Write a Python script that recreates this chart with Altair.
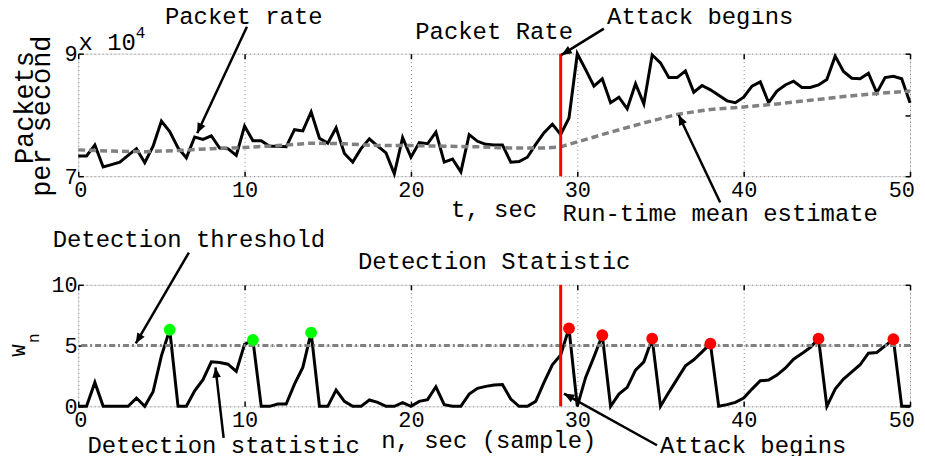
import math
import altair as alt
import numpy as np
import pandas as pd

FONT = "Liberation Mono"

# ---------------- data ----------------
t = np.arange(0, 50.5, 0.5)  # sample times, sec

packet_rate = [  # x 10^4 packets per second
    7.33, 7.33, 7.51, 7.15, 7.19, 7.23, 7.34, 7.45, 7.22, 7.49,
    7.90, 7.73, 7.46, 7.30, 7.64, 7.60, 7.66, 7.46, 7.45, 7.34,
    7.82, 7.58, 7.58, 7.49, 7.49, 7.48, 7.76, 7.74, 8.05, 7.62,
    7.54, 7.79, 7.37, 7.23, 7.45, 7.61, 7.49, 7.38, 7.04, 7.63,
    7.31, 7.55, 7.53, 7.72, 7.23, 7.28, 7.07, 7.68, 7.57, 7.52,
    7.51, 7.51, 7.23, 7.24, 7.31, 7.52, 7.71, 7.85, 7.68, 7.95,
    9.00, 8.74, 8.47, 8.59, 8.20, 8.29, 8.10, 8.51, 8.18, 8.98,
    8.85, 8.61, 8.61, 8.72, 8.37, 8.48, 8.41, 8.32, 8.23, 8.20,
    8.29, 8.47, 8.54, 8.20, 8.39, 8.49, 8.55, 8.45, 8.45, 8.49,
    8.58, 8.96, 8.71, 8.60, 8.59, 8.68, 8.36, 8.61, 8.63, 8.59,
    8.20,
]

w_stat = [
    0, 0, 1.97, 0, 0, 0, 0, 0.68, 0, 1.2,
    4.15, 6.3, 0, 0, 1.28, 2.19, 3.66, 3.6, 3.47, 2.87,
    5.1, 5.46, 0, 0, 0.19, 0.19, 1.83, 3.2, 6.07, 0,
    0, 1.34, 0.41, 0, 0, 0.52, 0.33, 0, 0, 0.3,
    0, 0.41, 0.55, 1.61, 0.14, 0, 0, 1.01, 1.48, 1.64,
    1.75, 1.80, 0.6, 0, 0, 0.41, 1.97, 3.42, 4.23, 6.42,
    0, 2.38, 4.07, 5.85, 0, 1.01, 1.56, 2.98, 3.66, 5.57,
    0, 1.15, 2.24, 3.33, 3.83, 4.48, 5.16, 0, 0.14, 0.33,
    0.68, 1.42, 2.10, 2.16, 2.57, 3.14, 3.88, 4.34, 4.84, 5.57,
    0, 1.42, 2.24, 2.84, 3.42, 4.37, 4.43, 4.97, 5.52, 0,
    0,
]

mean_t = [0, 2, 4, 6, 8, 10, 12, 14, 16, 18, 20, 22, 24, 26, 28, 29,
          30, 32, 34, 36, 38, 40, 42, 44, 46, 48, 50]
mean_est = [7.43, 7.41, 7.40, 7.42, 7.45, 7.47, 7.50, 7.54, 7.53, 7.50, 7.50,
            7.49, 7.48, 7.46, 7.46, 7.48, 7.56, 7.72, 7.87, 8.01, 8.09, 8.13,
            8.18, 8.24, 8.30, 8.35, 8.39]

alarm_t = [5.5, 10.5, 14, 29.5, 31.5, 34.5, 38, 44.5, 49]
alarm_w = [6.3, 5.46, 6.07, 6.42, 5.85, 5.57, 5.16, 5.57, 5.52]
alarm_color = ["#00ff00"] * 3 + ["#ff0000"] * 6

attack_t = 29
threshold = 5

x_ticks = [0, 10, 20, 30, 40, 50]
top_y_ticks = [7, 8, 9]
bot_y_ticks = [0, 5, 10]

# annotations (data coordinates)
top_labels = ["Packet rate", "Packet Rate", "Attack begins", "t, sec",
              "Run-time mean estimate", "x 10", "4"]
top_lab_x = [9.95, 25, 37.39, 25, 38.59, 1.74, 3.75]
top_lab_y = [9.60, 9.35, 9.60, 6.45, 6.39, 9.18, 9.34]
top_lab_fs = [24, 24, 24, 24, 24, 24, 16]

ylab_labels = ["Packets", "per second"]
ylab_x = [-3.20, -2.18]
ylab_y = [8.12, 7.98]

top_arr_x = [10.14, 31.6, 38.59]
top_arr_y = [9.44, 9.41, 6.57]
top_arr_x2 = [7.15, 29.05, 36.09]
top_arr_y2 = [7.70, 8.98, 8.00]

bot_labels = ["Detection threshold", "Detection Statistic", "Detection statistic",
              "n, sec (sample)", "Attack begins"]
bot_lab_x = [6.65, 25, 8.74, 24.68, 40.57]
bot_lab_y = [13.69, 11.89, -3.28, -2.83, -3.24]

rot_labels = ["W", "n"]
rot_lab_x = [-3.58, -2.68]
rot_lab_y = [4.59, 5.61]
rot_lab_fs = [20, 16]

bot_arr_x = [6.65, 8.74, 34.79]
bot_arr_y = [12.65, -2.60, -3.20]
bot_arr_x2 = [3.46, 8.25, 29.2]
bot_arr_y2 = [5.18, 3.20, 1.05]

# ---------------- layout ----------------
W = 835
H1 = 123
H2 = 122
GAP = 109

xs = alt.Scale(domain=[0, 50], nice=False, zero=False)
ys_top = alt.Scale(domain=[7, 9], nice=False, zero=False)
ys_bot = alt.Scale(domain=[0, 10], nice=False, zero=False)


def main_axis(values, orient):
    is_x = orient == "bottom"
    return alt.Axis(values=values, orient=orient, offset=-5, tickSize=5, tickWidth=1.5,
                    tickColor="black", domain=False, grid=True, gridColor="#888888",
                    gridDash=[1, 3], gridWidth=1, labelFont=FONT, labelFontSize=22,
                    labelColor="black", labelPadding=3 if is_x else 1,
                    labelFlush=is_x, labelFlushOffset=4.5 if is_x else 0,
                    labelOverlap=False, format="d", title=None)


def mirror_axis(values, orient):
    return alt.Axis(values=values, orient=orient, offset=-5, tickSize=5, tickWidth=1.5,
                    tickColor="black", domain=False, grid=False, labels=False, title=None)


def arrows(xa, ya, xb, yb, ppy, yscale):
    d = pd.DataFrame({"x": xa, "y": ya, "x2": xb, "y2": yb})
    ppx = W / 50.0
    d["ang"] = [
        math.degrees(math.atan2((b - a) * ppx, (d2 - d1) * ppy)) % 360
        for a, b, d1, d2 in zip(xa, xb, ya, yb)
    ]
    shaft = alt.Chart(d).mark_rule(color="black", strokeWidth=2.5).encode(
        x=alt.X("x:Q", scale=xs, axis=None), y=alt.Y("y:Q", scale=yscale, axis=None),
        x2="x2:Q", y2="y2:Q")
    head = alt.Chart(d).mark_point(shape="M0,0L0.42,1L-0.42,1Z", filled=True, fill="black",
                                   opacity=1, strokeWidth=0, size=420).encode(
        x=alt.X("x2:Q", scale=xs, axis=None), y=alt.Y("y2:Q", scale=yscale, axis=None),
        angle=alt.Angle("ang:Q", scale=None))
    return shaft + head


df = pd.DataFrame({"t": t, "rate": packet_rate, "W": w_stat})
df_mean = pd.DataFrame({"t": mean_t, "m": mean_est})
df_alarm = pd.DataFrame({"t": alarm_t, "w": alarm_w, "c": alarm_color})
df_attack = pd.DataFrame({"t": [attack_t]})
df_thr = pd.DataFrame({"w": [threshold]})

# ---------------- top panel ----------------
rate_line = alt.Chart(df).mark_line(color="black", strokeWidth=3).encode(
    x=alt.X("t:Q", scale=xs, axis=main_axis(x_ticks, "bottom")),
    y=alt.Y("rate:Q", scale=ys_top, axis=main_axis(top_y_ticks, "left")))
mean_line = alt.Chart(df_mean).mark_line(color="#808080", strokeWidth=3.5, strokeDash=[7, 4]).encode(
    x=alt.X("t:Q", scale=xs, axis=mirror_axis(x_ticks, "top")),
    y=alt.Y("m:Q", scale=ys_top, axis=mirror_axis(top_y_ticks, "right")))
red_top = alt.Chart(df_attack).mark_rule(color="#ff0000", strokeWidth=3).encode(
    x=alt.X("t:Q", scale=xs, axis=None))
top_txt = alt.Chart(pd.DataFrame({"x": top_lab_x, "y": top_lab_y, "s": top_labels,
                                  "fs": top_lab_fs})).mark_text(
    font=FONT, align="center", baseline="middle", color="black").encode(
    x=alt.X("x:Q", scale=xs, axis=None), y=alt.Y("y:Q", scale=ys_top, axis=None),
    text="s:N", size=alt.Size("fs:Q", scale=None, legend=None))
yt_title = alt.Chart(pd.DataFrame({"x": ylab_x, "y": ylab_y, "s": ylab_labels})).mark_text(
    font=FONT, fontSize=27, align="center", baseline="middle", angle=270, color="black").encode(
    x=alt.X("x:Q", scale=xs, axis=None), y=alt.Y("y:Q", scale=ys_top, axis=None), text="s:N")

top = alt.layer(
    rate_line, mean_line, red_top, top_txt, yt_title,
    arrows(top_arr_x, top_arr_y, top_arr_x2, top_arr_y2, H1 / 2.0, ys_top),
).resolve_axis(x="independent", y="independent").properties(width=W, height=H1)

# ---------------- bottom panel ----------------
w_line = alt.Chart(df).mark_line(color="black", strokeWidth=3).encode(
    x=alt.X("t:Q", scale=xs, axis=main_axis(x_ticks, "bottom")),
    y=alt.Y("W:Q", scale=ys_bot, axis=main_axis(bot_y_ticks, "left")))
thr_line = alt.Chart(df_thr).mark_rule(color="#808080", strokeWidth=3, strokeDash=[6, 3, 2, 3]).encode(
    y=alt.Y("w:Q", scale=ys_bot, axis=mirror_axis(bot_y_ticks, "right")))
red_bot = alt.Chart(df_attack).mark_rule(color="#ff0000", strokeWidth=3).encode(
    x=alt.X("t:Q", scale=xs, axis=mirror_axis(x_ticks, "top")))
dots = alt.Chart(df_alarm).mark_circle(size=140, opacity=1).encode(
    x=alt.X("t:Q", scale=xs, axis=None), y=alt.Y("w:Q", scale=ys_bot, axis=None),
    color=alt.Color("c:N", scale=None, legend=None))
bot_txt = alt.Chart(pd.DataFrame({"x": bot_lab_x, "y": bot_lab_y, "s": bot_labels})).mark_text(
    font=FONT, fontSize=24, align="center", baseline="middle", color="black").encode(
    x=alt.X("x:Q", scale=xs, axis=None), y=alt.Y("y:Q", scale=ys_bot, axis=None), text="s:N")
rot_txt = alt.Chart(pd.DataFrame({"x": rot_lab_x, "y": rot_lab_y, "s": rot_labels,
                                  "fs": rot_lab_fs})).mark_text(
    font=FONT, align="center", baseline="middle", angle=270, color="black").encode(
    x=alt.X("x:Q", scale=xs, axis=None), y=alt.Y("y:Q", scale=ys_bot, axis=None),
    text="s:N", size=alt.Size("fs:Q", scale=None, legend=None))

bottom = alt.layer(
    w_line, thr_line, red_bot, dots, bot_txt, rot_txt,
    arrows(bot_arr_x, bot_arr_y, bot_arr_x2, bot_arr_y2, H2 / 10.0, ys_bot),
).resolve_axis(x="independent", y="independent").properties(width=W, height=H2)

chart = alt.vconcat(top, bottom, spacing=GAP, bounds="flush").properties(
    padding={"left": -0.5, "top": -5, "right": -1, "bottom": -4}
).configure_view(stroke="black", strokeWidth=2).configure(background="white")

chart.save("out.html", embed_options={"renderer": "svg", "actions": False})
